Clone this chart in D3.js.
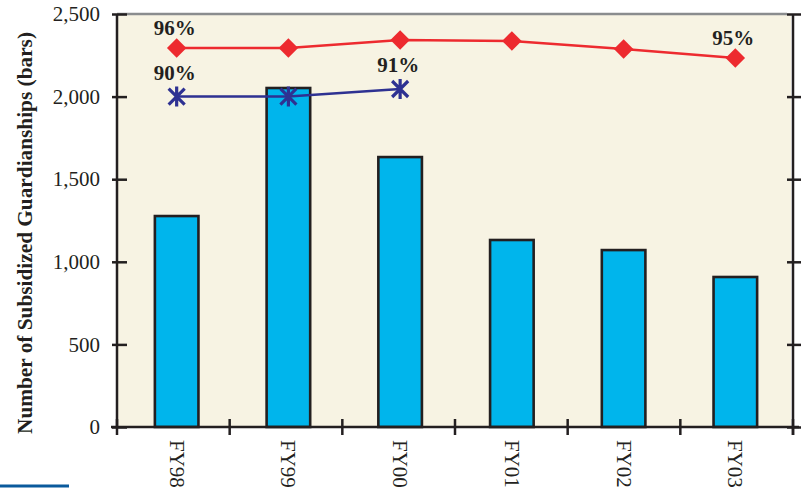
<!DOCTYPE html>
<html>
<head>
<script src="https://cdn.jsdelivr.net/npm/d3@7"></script>
<style>
  html, body { margin: 0; padding: 0; background: #fff; }
  svg text { font-family: "Liberation Serif", "Times New Roman", serif; fill: #231f20; }
</style>
</head>
<body>
<svg id="chart" width="803" height="488"></svg>
<script>
// data
var years = ["FY98", "FY99", "FY00", "FY01", "FY02", "FY03"];
var guardianships = [1277, 2052, 1634, 1132, 1071, 908];      // bars
var redLine = [2294, 2294, 2343, 2337, 2288, 2234];            // diamonds
var blueLine = [2000, 2000, 2046];                             // asterisks, FY98-FY00
var redLabels = [{i: 0, text: "96%"}, {i: 5, text: "95%"}];
var blueLabels = [{i: 0, text: "90%"}, {i: 2, text: "91%"}];
var yTicks = [0, 500, 1000, 1500, 2000, 2500];

var svg = d3.select("#chart");
// note: "top" is window.top, so use other names
var plotL = 117, plotR = 793, plotT = 14, plotB = 427;

var x = d3.scaleBand().domain(years).range([plotL, plotR]).paddingInner(0.61).paddingOuter(0.33);
var xc = function(i) { return x(years[i]) + x.bandwidth() / 2 + 1; };
var y = d3.scaleLinear().domain([0, 2500]).range([plotB, plotT]);

// plot background
svg.append("rect")
  .attr("x", plotL).attr("y", plotT)
  .attr("width", plotR - plotL - 2).attr("height", plotB - plotT)
  .attr("fill", "#f7f3e3");

// top border
svg.append("line")
  .attr("x1", plotL).attr("x2", plotR - 6)
  .attr("y1", plotT).attr("y2", plotT)
  .attr("stroke", "#8a8c8e").attr("stroke-width", 2.5);

// bars
svg.selectAll("rect.bar")
  .data(guardianships)
  .enter().append("rect")
  .attr("class", "bar")
  .attr("x", function(d, i) { return x(years[i]) + 1; })
  .attr("y", function(d) { return y(d); })
  .attr("width", x.bandwidth())
  .attr("height", function(d) { return plotB - y(d); })
  .attr("fill", "#00b5ec")
  .attr("stroke", "#231f20")
  .attr("stroke-width", 2.6);

// left axis
var yAxis = svg.append("g")
  .attr("transform", "translate(" + plotL + ",0)")
  .call(d3.axisLeft(y).tickValues(yTicks).tickFormat(d3.format(",")).tickSize(5).tickPadding(12));
yAxis.select(".domain").attr("stroke", "#231f20").attr("stroke-width", 2.5).attr("d", "M0," + plotT + "V" + plotB);
yAxis.selectAll(".tick line").attr("stroke", "#231f20").attr("stroke-width", 2.5).attr("x1", 10);
yAxis.selectAll(".tick text").style("font-size", "21px").style("fill", "#231f20").style("font-family", "Liberation Serif");

// right axis
var yAxisR = svg.append("g")
  .attr("transform", "translate(" + plotR + ",0)")
  .call(d3.axisRight(y).tickValues(yTicks).tickFormat("").tickSize(8));
yAxisR.select(".domain").attr("stroke", "#231f20").attr("stroke-width", 2.5).attr("d", "M0," + plotT + "V" + (plotB + 8));
yAxisR.selectAll(".tick line").attr("stroke", "#231f20").attr("stroke-width", 2.5).attr("x1", -6);

// bottom axis line and ticks at category boundaries
var bounds = d3.range(years.length + 1).map(function(i) { return plotL + i * (plotR - plotL) / years.length; });
svg.append("line")
  .attr("x1", plotL - 6).attr("x2", plotR + 6)
  .attr("y1", plotB).attr("y2", plotB)
  .attr("stroke", "#231f20").attr("stroke-width", 2.5);
svg.selectAll("line.xtick")
  .data(bounds)
  .enter().append("line")
  .attr("class", "xtick")
  .attr("x1", function(d) { return d; }).attr("x2", function(d) { return d; })
  .attr("y1", plotB - 8).attr("y2", plotB + 8)
  .attr("stroke", "#231f20").attr("stroke-width", 2.5);

// category labels, rotated
svg.selectAll("text.xlab")
  .data(years)
  .enter().append("text")
  .attr("class", "xlab")
  .attr("transform", function(d, i) { return "translate(" + (xc(i) - 7) + "," + (plotB + 13) + ") rotate(90)"; })
  .attr("text-anchor", "start")
  .style("font-size", "21px")
  .text(function(d) { return d; });

// red line with diamonds
var line = d3.line().x(function(d, i) { return xc(i); }).y(function(d) { return y(d); });
svg.append("path")
  .datum(redLine)
  .attr("d", line)
  .attr("fill", "none")
  .attr("stroke", "#ed2a2f")
  .attr("stroke-width", 2.5);
svg.selectAll("path.diamond")
  .data(redLine)
  .enter().append("path")
  .attr("class", "diamond")
  .attr("d", d3.symbol().type(d3.symbolSquare).size(190))
  .attr("transform", function(d, i) { return "translate(" + xc(i) + "," + y(d) + ") rotate(45)"; })
  .attr("fill", "#ed2a2f");

// blue line with asterisks
svg.append("path")
  .datum(blueLine)
  .attr("d", line)
  .attr("fill", "none")
  .attr("stroke", "#2e3192")
  .attr("stroke-width", 2.5);
var star = svg.selectAll("g.star")
  .data(blueLine)
  .enter().append("g")
  .attr("class", "star")
  .attr("transform", function(d, i) { return "translate(" + xc(i) + "," + y(d) + ")"; });
star.append("path")
  .attr("d", "M-8,-8L8,8M-8,8L8,-8M0,-10V10")
  .attr("stroke", "#2e3192")
  .attr("stroke-width", 3.2)
  .attr("fill", "none");

// percentage labels
svg.selectAll("text.rlab")
  .data(redLabels)
  .enter().append("text")
  .attr("x", function(d) { return xc(d.i) - 2; })
  .attr("y", function(d) { return y(redLine[d.i]) - 13; })
  .attr("text-anchor", "middle")
  .style("font-size", "21px").style("font-weight", "bold")
  .text(function(d) { return d.text; });
svg.selectAll("text.blab")
  .data(blueLabels)
  .enter().append("text")
  .attr("x", function(d) { return xc(d.i) - 2; })
  .attr("y", function(d) { return y(blueLine[d.i]) - 17; })
  .attr("text-anchor", "middle")
  .style("font-size", "21px").style("font-weight", "bold")
  .text(function(d) { return d.text; });

// y axis title
svg.append("text")
  .attr("transform", "translate(32,233) rotate(-90)")
  .attr("text-anchor", "middle")
  .attr("textLength", 402)
  .attr("lengthAdjust", "spacingAndGlyphs")
  .style("font-size", "22px").style("font-weight", "bold")
  .text("Number of Subsidized Guardianships  (bars)");

// blue rule at lower left
svg.append("line")
  .attr("x1", 0).attr("x2", 69)
  .attr("y1", 486).attr("y2", 486)
  .attr("stroke", "#0a5a9c").attr("stroke-width", 3);
</script>
</body>
</html>
